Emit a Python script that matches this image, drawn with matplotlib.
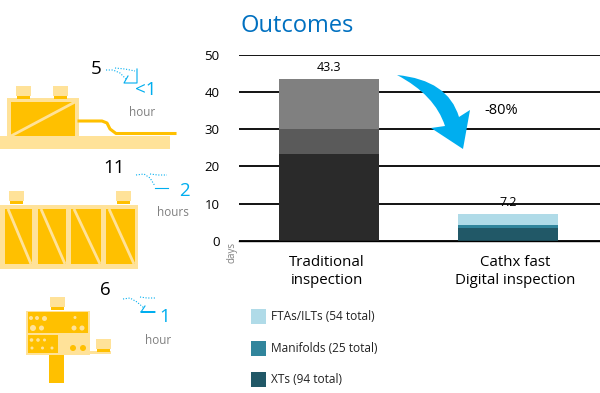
import matplotlib
matplotlib.use('Agg')
import matplotlib.pyplot as plt
from matplotlib.patches import Rectangle, PathPatch, Circle
from matplotlib.path import Path

plt.rcParams['font.family'] = ['Open Sans', 'DejaVu Sans']

# chart values
categories = ['Traditional\ninspection', 'Cathx fast\nDigital inspection']
xts = [23.3, 3.4]
manifolds = [6.7, 1.0]
ftas = [13.3, 2.8]
totals = ['43.3', '7.2']
yticks = [0, 10, 20, 30, 40, 50]
legend_labels = ['FTAs/ILTs (54 total)', 'Manifolds (25 total)', 'XTs (94 total)']
legend_colors = ['#B0DBE8', '#31859C', '#215867']
trad_colors = ['#2A2A2A', '#5A5A5A', '#808080']

BLUE = '#00AEEF'
YEL = '#FFC000'
PALE = '#FFE299'

W = 600
H = 393
fig = plt.figure(figsize=(6, 3.93), dpi=100)

# overlay in pixel coordinates, y going down
ov = fig.add_axes([0, 0, 1, 1], zorder=3)
ov.set_xlim(0, W)
ov.set_ylim(H, 0)
ov.axis('off')
ov.patch.set_alpha(0)

# bar chart
ax = fig.add_axes([239 / W, 1 - 241 / H, 361 / W, 186.5 / H], zorder=1)
ax.set_xlim(-0.5, 1.51)
ax.set_ylim(0, 50)
ax.set_axisbelow(True)
ax.yaxis.grid(True, color='black', lw=1.3)
ax.set_yticks(yticks)
for s in ['top', 'right', 'left']:
	ax.spines[s].set_visible(False)
ax.spines['bottom'].set_linewidth(1)
ax.tick_params(axis='y', length=0, pad=14, labelsize=9.5)
ax.set_xticks([])

for i in range(2):
	if i == 0:
		cols = trad_colors
	else:
		cols = [legend_colors[2], legend_colors[1], legend_colors[0]]
	ax.bar(i, xts[i], width=0.557, color=cols[0], zorder=2)
	ax.bar(i, manifolds[i], width=0.557, bottom=xts[i], color=cols[1], zorder=2)
	ax.bar(i, ftas[i], width=0.557, bottom=xts[i] + manifolds[i], color=cols[2], zorder=2)
	total = xts[i] + manifolds[i] + ftas[i]
	ax.text(i, total + 1.5, totals[i], ha='center', va='bottom', fontsize=9, zorder=3)

# category labels sit a little off the bar centres
ov.text(327, 271.5, categories[0], fontsize=10.8, ha='center', va='center', linespacing=1.35)
ov.text(515, 271.5, categories[1], fontsize=10.8, ha='center', va='center', linespacing=1.35)

ov.text(241, 26, 'Outcomes', color='#0070C0', fontsize=17, va='center', ha='left')
ov.text(232, 252, 'days', color='#808080', fontsize=7, rotation=90, va='center', ha='center')
ov.text(484, 110, '-80%', fontsize=10.5, va='center', ha='left')

# big curved arrow
arrow_pts = [(397, 75), (448, 80), (459, 117), (470, 110), (463, 149), (431, 128), (445, 126), (435, 95), (397, 75)]
arrow_codes = [Path.MOVETO, Path.CURVE3, Path.CURVE3, Path.LINETO, Path.LINETO, Path.LINETO, Path.LINETO, Path.CURVE3, Path.CURVE3]
ov.add_patch(PathPatch(Path(arrow_pts, arrow_codes), color=BLUE, lw=0))

# legend
for i in range(3):
	y = 309 + i * 31.5
	ov.add_patch(Rectangle((251, y), 15, 15, color=legend_colors[i], lw=0))
	ov.text(271, y + 7.5, legend_labels[i], fontsize=8.6, va='center', ha='left', color='#222222')

def rect(x0, y0, x1, y1, c):
	ov.add_patch(Rectangle((x0, y0), x1 - x0, y1 - y0, color=c, lw=0))

def knob(x0, y0):
	rect(x0, y0, x0 + 15, y0 + 10, PALE)
	rect(x0 + 1, y0 + 10, x0 + 14, y0 + 13, YEL)

def dots(pts):
	for p in pts:
		ov.add_patch(Circle((p[0], p[1]), p[2], color=PALE, lw=0))

# first icon
rect(0, 136, 170, 149, PALE)
rect(7, 98, 79, 136, PALE)
rect(11, 102, 75, 136, YEL)
ov.plot([11, 75], [136, 102], color=PALE, lw=2, solid_capstyle='butt')
knob(16, 86)
knob(53, 86)
ov.plot([79, 102, 107, 110, 116, 175], [121, 121, 123, 129, 133.5, 133.5], color=YEL, lw=2.2)

# second icon
rect(0, 205, 138, 269, PALE)
panels = [(5, 32), (38, 66), (71, 101), (106, 135)]
for p in panels:
	rect(p[0], 209, p[1], 264, YEL)
	ov.plot([p[0] + 3, p[1] - 1], [209, 264], color=PALE, lw=2, solid_capstyle='butt')
knob(9, 191)
knob(116, 191)

# third icon
rect(26, 311, 90, 355, PALE)
rect(28, 312, 88, 333, YEL)
rect(28, 335, 58, 353, YEL)
rect(49, 355, 64, 383, YEL)
rect(90, 351, 111, 354, PALE)
knob(50, 297)
knob(96, 339)
dots([(31, 318, 2), (37, 318, 2), (44.5, 318.5, 2.5), (75, 317.5, 1.5), (33, 328, 3), (41.5, 328, 2.5),
	(74, 328, 2.5), (82, 328, 2.5), (31.5, 340, 1.8), (38, 340, 1.8), (44.5, 340, 1.5),
	(32, 348, 1.5), (42.5, 348, 1.5), (52, 348, 1.5)])
ov.add_patch(Circle((73, 348), 3, color=YEL, lw=0))
ov.add_patch(Circle((83, 348), 3, color=YEL, lw=0))

# hour labels beside the icons
def note(before, bx, by, after, ax_, ay, unit, ux, uy, arc, arc2, head):
	ov.text(bx, by, before, fontsize=13.5, ha='center', va='center', color='black')
	ov.text(ax_, ay, after, fontsize=13.5, ha='center', va='center', color=BLUE)
	ov.text(ux, uy, unit, fontsize=8.5, ha='center', va='center', color='#808080')
	ov.plot(arc[0], arc[1], color=BLUE, lw=0.8, ls=(0, (1, 1.5)))
	ov.plot(arc2[0], arc2[1], color=BLUE, lw=0.8, ls=(0, (1, 1.5)))
	ov.plot(head[0], head[1], color=BLUE, lw=0.8)

note('5', 96, 69, '<1', 146, 90, 'hour', 142, 112,
	([106, 113, 120, 127], [70, 70, 73, 80]), ([115, 125, 135], [68, 69, 71]), ([137, 137, 124, 128], [69, 83, 83, 76]))
note('11', 114, 168, '2', 184, 191, 'hours', 173, 212,
	([136, 144, 150, 155], [175, 174, 178, 186]), ([150, 158, 167], [174, 175, 175]), ([155, 168], [188, 188]))
note('6', 105, 290, '1', 165, 317, 'hour', 158, 340,
	([123, 130, 137, 144], [299, 298, 302, 308]), ([140, 147, 155], [297, 298, 298]), ([141, 155, 141, 145], [312, 312, 312, 306]))

fig.savefig('out.png', dpi=100)
